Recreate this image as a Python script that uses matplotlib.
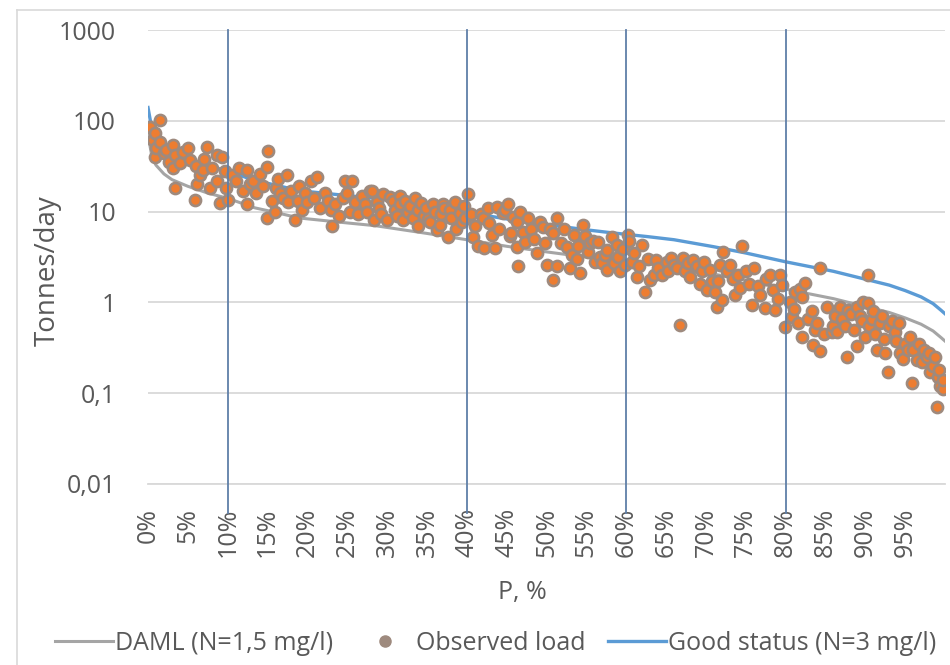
import numpy as np
import matplotlib.pyplot as plt
from matplotlib.lines import Line2D
from matplotlib.ticker import FixedLocator, FuncFormatter

plt.rcParams['font.family'] = ['Open Sans', 'DejaVu Sans']

# Duration curves (percent of time exceeded, tonnes/day)
curve_p = [0, 0.5, 1, 2, 3, 5, 7.5, 10, 13.4, 15, 19, 25, 28.5, 35, 40, 45, 50,
           55, 58.5, 62.7, 66, 71, 75, 80, 86, 90, 93, 95, 97, 98.5, 99.5, 100]
good_status = [140, 80, 65, 52, 45, 38, 32, 28, 22, 20.5, 17, 15, 14, 11.5, 9.8,
               8.3, 7.2, 6.3, 5.8, 5.3, 4.9, 4.1, 3.5, 2.8, 2.2, 1.8, 1.55, 1.35,
               1.15, 0.97, 0.82, 0.75]
daml = [70, 40, 32.5, 26, 22.5, 19, 16, 14, 11, 10.25, 8.5, 7.5, 7, 5.75, 4.9,
        4.15, 3.6, 3.15, 2.9, 2.65, 2.45, 2.05, 1.75, 1.4, 1.1, 0.9, 0.775, 0.675,
        0.575, 0.485, 0.41, 0.375]

# Observed loads, grouped by 10 % bands
obs_p = [0.25, 0.6, 0.9, 0.9, 1.0, 1.5, 1.5, 2.0, 2.3, 2.6, 3.1, 3.1, 3.4, 3.4,
         4.0, 4.4, 5.0, 5.3, 5.9, 6.0, 6.2, 6.5, 6.9, 7.0, 7.4, 7.8, 8.0, 8.7,
         8.7, 9.0, 9.3, 9.6, 9.8, 10.0,
         10.5, 11.0, 11.4, 11.9, 12.4, 12.4, 12.8, 13.2, 13.6, 14.0, 14.4, 14.9,
         14.9, 15.0, 15.5, 15.9, 16.0, 16.3, 16.6, 17.0, 17.4, 17.6, 18.0, 18.4,
         18.8, 19.0, 19.3, 19.7, 20.0,
         20.4, 20.8, 21.2, 21.6, 22.2, 22.6, 23.0, 23.1, 23.5, 24.0, 24.5, 24.7,
         25.0, 25.3, 25.6, 26.0, 26.4, 26.8, 27.2, 27.5, 27.9, 28.1, 28.4, 28.7,
         29.0, 29.2, 29.5, 30.0,
         30.4, 30.8, 31.0, 31.3, 31.6, 31.6, 32.0, 32.3, 32.6, 32.9, 33.2, 33.5,
         33.9, 33.9, 34.2, 34.6, 34.9, 35.1, 35.4, 35.8, 36.0, 36.3, 36.6, 36.8,
         37.0, 37.2, 37.6, 37.9, 38.0, 38.5, 38.7, 39.1, 39.4, 39.6, 39.8, 40.2,
         40.5, 40.8, 41.0, 41.4, 41.8, 42.0, 42.2, 42.6, 42.8, 43.2, 43.5, 43.8,
         44.0, 44.5, 44.8, 45.2, 45.4, 45.6, 45.8, 46.3, 46.3, 46.4, 46.7, 47.0,
         47.3, 47.7, 48.0, 48.4, 48.8, 49.2, 49.5, 49.8, 50.0,
         50.4, 50.8, 50.8, 51.3, 51.3, 51.8, 52.2, 52.6, 52.9, 53.2, 53.5, 53.8,
         54.0, 54.2, 54.6, 54.8, 55.2, 55.5, 55.8, 56.1, 56.4, 56.7, 57.0, 57.3,
         57.6, 57.6, 58.2, 58.5, 58.8, 59.0, 59.2, 59.6, 59.8, 60.2,
         60.4, 60.7, 61.0, 61.4, 61.6, 62.0, 62.4, 62.7, 63.0, 63.5, 63.8, 64.0,
         64.5, 65.1, 65.2, 65.6, 66.0, 66.4, 66.8, 67.1, 67.4, 67.8, 68.0, 68.4,
         68.9, 69.2, 69.5, 69.8, 70.1,
         70.5, 70.8, 71.1, 71.4, 71.5, 71.8, 72.0, 72.1, 72.6, 73.0, 73.4, 73.7,
         74.0, 74.3, 74.5, 75.0, 75.4, 75.8, 76.0, 76.5, 76.8, 77.4, 77.6, 78.0,
         78.4, 78.7, 79.0, 79.3, 79.5, 79.9,
         80.5, 80.8, 81.0, 81.2, 81.5, 81.8, 82.0, 82.1, 82.4, 82.8, 83.3, 83.4,
         83.7, 84.0, 84.3, 84.3, 84.8, 85.2, 85.8, 86.0, 86.2, 86.4, 86.8, 87.1,
         87.4, 87.7, 87.8, 88.2, 88.6, 88.9, 89.0, 89.3, 89.6, 89.7, 90.0,
         90.3, 90.3, 90.5, 90.8, 91.0, 91.2, 91.5, 91.8, 92.1, 92.4, 92.5, 92.8,
         93.0, 93.4, 93.7, 93.9, 94.2, 94.4, 94.7, 95.0, 95.3, 95.6, 95.9, 96.0,
         96.5, 96.8, 97.1, 97.4, 97.7, 98.0, 98.1, 98.5, 98.8, 99.0, 99.1, 99.3,
         99.4, 99.7, 99.8]
obs_load = [85, 61, 73, 40, 50, 101, 58, 44, 48, 35, 54, 30, 42, 18,
            34, 45, 50, 37, 13.5, 32, 20, 25, 29, 38, 52, 18, 30, 42,
            22, 12.5, 40, 28, 18, 13.5,
            25, 22, 30, 17, 29, 12.2, 20, 22, 16, 26, 19, 31,
            8.5, 47, 13, 9.9, 18, 23, 16, 14, 25, 12.6, 17, 8.1,
            13, 19, 10.5, 16, 12.6,
            22, 14, 24, 11, 16, 13, 10.5, 6.9, 12, 9, 14, 22,
            16, 10, 22, 12.6, 9.5, 15, 12, 10, 17, 17, 8, 12.6,
            11, 9.5, 15.8, 8,
            14.5, 13, 10.5, 9, 15, 12, 8, 13, 10, 11.5, 8.5, 14,
            10.5, 6.9, 12.5, 9, 11, 8.2, 7.7, 12, 10, 6.3, 7.2, 9.5,
            12, 11, 5.3, 10.5, 8.5, 12.6, 6.5, 9.6, 7.7, 11.5, 8.5, 15.8,
            9.5, 5.2, 7, 4.2, 9.5, 8.5, 4, 11, 7.5, 5.5, 4, 11.3,
            6.5, 9.6, 10.5, 12.2, 5.4, 5.8, 8.8, 7.6, 4.1, 2.5, 9.9, 6,
            4.6, 8.5, 6.5, 5, 3.5, 7.6, 6.8, 4.5, 2.6,
            6.5, 5.8, 1.76, 8.5, 2.5, 4.5, 6.5, 4.1, 2.4, 3.3, 5.5, 3.0,
            4.2, 2.1, 7.1, 5.4, 3.6, 4.5, 4.8, 2.8, 4.6, 3.2, 2.7, 3.3,
            3.8, 2.3, 5.3, 2.7, 4.3, 3.2, 2.2, 3.9, 2.6, 5.5,
            4.8, 2.8, 3.5, 1.9, 2.5, 4.3, 1.3, 3.0, 1.76, 2.0, 2.9, 2.4,
            2.0, 2.8, 2.2, 3.1, 2.6, 2.4, 0.56, 3.1, 2.2, 2.7, 1.9, 2.9,
            2.5, 1.6, 2.2, 2.8, 1.37,
            2.3, 1.7, 1.3, 0.89, 1.7, 2.6, 1.06, 3.6, 2.2, 2.6, 1.8, 1.2,
            2.0, 1.44, 4.2, 2.2, 1.6, 0.94, 2.4, 1.5, 1.2, 0.87, 1.8, 2.0,
            1.37, 0.82, 1.1, 2.0, 1.56, 0.54,
            1.0, 0.69, 0.85, 1.3, 0.6, 1.4, 0.42, 1.15, 1.63, 0.65, 0.8, 0.34,
            0.5, 0.6, 0.29, 2.4, 0.45, 0.9, 0.47, 0.55, 0.7, 0.47, 0.9, 0.66,
            0.55, 0.25, 0.82, 0.75, 0.5, 0.33, 0.89, 0.7, 0.63, 1.0, 0.42,
            2.0, 0.98, 0.55, 0.66, 0.8, 0.45, 0.3, 0.6, 0.7, 0.4, 0.28, 0.17,
            0.55, 0.63, 0.47, 0.38, 0.6, 0.28, 0.24, 0.35, 0.3, 0.42, 0.13, 0.3,
            0.23, 0.35, 0.22, 0.3, 0.25, 0.28, 0.17, 0.2, 0.25, 0.07, 0.15, 0.18,
            0.12, 0.11, 0.14]

x_ticks = list(range(0, 100, 5))
x_labels = [f"{t}%" for t in x_ticks]
marked_p = [10, 40, 60, 80]
y_ticks = [0.01, 0.1, 1, 10, 100, 1000]
y_labels = ["0,01", "0,1", "1", "10", "100", "1000"]

blue = '#5B9BD5'
grey = '#A5A5A5'
orange = '#ED7D31'
edge = '#9E8A7E'
text_col = '#595959'

fig = plt.figure(figsize=(9.5, 6.65), dpi=100)
ax = fig.add_axes([148 / 950, 1 - 484 / 665, 797 / 950, 454 / 665])

ax.plot(curve_p, daml, color=grey, lw=2.2, zorder=2)
ax.plot(curve_p, good_status, color=blue, lw=2.4, zorder=2)
ax.scatter(obs_p, obs_load, s=64, facecolor=orange, edgecolor=edge,
           linewidth=1.9, zorder=3)

for p in marked_p:
    ax.axvline(p, ymin=-0.064, ymax=1, color='#5F7FA8', lw=1.3, zorder=4,
               clip_on=False)

ax.set_yscale('log')
ax.set_ylim(0.01, 1000)
ax.set_xlim(0, 100)
ax.yaxis.set_major_locator(FixedLocator(y_ticks))
ax.yaxis.set_major_formatter(FuncFormatter(lambda v, pos: y_labels[y_ticks.index(v)] if v in y_ticks else ""))
ax.yaxis.set_minor_locator(FixedLocator([]))
ax.set_xticks(x_ticks)
ax.set_xticklabels(x_labels, rotation=90)
ax.tick_params(axis='x', length=0, pad=17, labelsize=18, colors=text_col)
ax.tick_params(axis='y', length=0, pad=23, labelsize=18, colors=text_col)
ax.grid(axis='y', color='#D9D9D9', lw=1.3)
ax.set_axisbelow(True)
for s in ['top', 'right', 'left']:
    ax.spines[s].set_visible(False)
ax.spines['bottom'].set_color('#D9D9D9')
ax.spines['bottom'].set_linewidth(1.3)

ax.set_ylabel('Tonnes/day', fontsize=20, color=text_col)
ax.yaxis.set_label_coords(-0.108, 0.47)
ax.set_xlabel('P, %', fontsize=18, color=text_col)
ax.xaxis.set_label_coords(0.47, -0.212)

handles = [Line2D([], [], color=grey, lw=2.2),
           Line2D([], [], ls='none', marker='o', markersize=8,
                  markerfacecolor=edge, markeredgecolor=edge),
           Line2D([], [], color=blue, lw=2.4)]
fig.legend(handles, ['DAML (N=1,5 mg/l)', 'Observed load', 'Good status (N=3 mg/l)'],
           loc='center', bbox_to_anchor=(0.522, 1 - 643 / 665), ncol=3,
           frameon=False, fontsize=18, labelcolor=text_col, handlelength=2.3,
           handletextpad=0.1, columnspacing=0.9)

# chart border (top and left visible)
fig.add_artist(Line2D([17 / 950, 1], [1 - 10 / 665, 1 - 10 / 665],
                      transform=fig.transFigure, color='#D9D9D9', lw=1.2))
fig.add_artist(Line2D([17 / 950, 17 / 950], [0, 1 - 10 / 665],
                      transform=fig.transFigure, color='#D9D9D9', lw=1.2))

plt.savefig('out.png', dpi=100)
